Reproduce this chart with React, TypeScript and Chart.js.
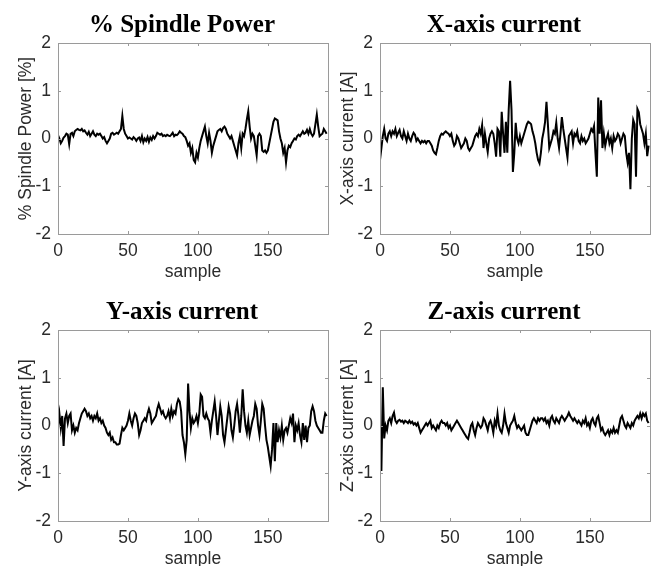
import React, { useEffect, useRef } from "react";
import { Chart, registerables } from "chart.js";

Chart.register(...registerables);

const spindlePower: number[] = [
  0.07, 0.0, -0.1, -0.05, 0.02, 0.05, 0.1, 0.08, -0.12, 0.1,
  0.12, 0.05, 0.15, 0.18, 0.2, 0.18, 0.17, 0.2, 0.15, 0.17,
  0.12, 0.08, 0.14, 0.05, 0.1, 0.15, 0.08, 0.05, 0.1, 0.08,
  0.1, 0.05, 0.0, 0.03, -0.05, -0.1, -0.05, 0.0, 0.1, 0.12,
  0.08, 0.1, 0.12, 0.1, 0.15, 0.2, 0.47, 0.2, 0.1, 0.05,
  0.0, 0.02, 0.0, -0.02, 0.03, 0.0, -0.05, 0.0, 0.02, -0.05,
  0.05, -0.08, 0.0, -0.05, 0.03, -0.07, 0.02, -0.03, 0.05, 0.0,
  0.05, 0.12, 0.1, 0.08, 0.1, 0.05, 0.07, 0.05, 0.08, 0.06,
  0.05, 0.08, 0.12, 0.05, 0.08, 0.07, 0.1, 0.15, 0.12, 0.1,
  0.05, 0.03, -0.05, -0.15, -0.1, -0.3, -0.2, -0.45, -0.5, -0.3,
  -0.4, -0.2, -0.05, 0.05, 0.15, 0.25, 0.05, -0.1, 0.12, -0.05,
  -0.3, -0.15, -0.05, 0.05, 0.15, 0.18, 0.2, 0.15, 0.22, 0.25,
  0.2, 0.1, 0.05, 0.0, 0.05, -0.05, -0.15, -0.25, -0.35, -0.1,
  0.05, -0.2, 0.1, 0.05, 0.2, 0.4, 0.57, 0.25, 0.0, 0.1,
  0.05, -0.15, -0.35, 0.05, 0.1, 0.05, -0.25, -0.28, -0.25, -0.3,
  -0.25, -0.1, 0.05, 0.2, 0.35, 0.42, 0.4, 0.38, 0.15, 0.0,
  -0.1, -0.3, -0.2, -0.5, -0.25, -0.15, -0.18, -0.1, -0.05, 0.0,
  -0.02, 0.05, 0.08, 0.05, 0.1, 0.15, 0.1, 0.12, 0.18, 0.1,
  0.2, 0.1, 0.05, 0.1, 0.3, 0.5, 0.25, 0.05, 0.08, 0.1,
  0.2, 0.15, 0.1,
];

const xCurrent: number[] = [
  -0.45, -0.2, 0.05, 0.2, 0.0, -0.05, 0.1, 0.15, 0.05, 0.15,
  0.1, 0.2, 0.05, 0.12, 0.18, 0.05, 0.0, 0.15, 0.05, -0.05,
  0.1, 0.0, -0.05, 0.05, 0.12, 0.08, -0.05, 0.0, -0.05, -0.1,
  -0.05, -0.08, -0.05, -0.1, -0.05, -0.05, -0.1, -0.15, -0.25, -0.3,
  -0.33, -0.2, -0.05, 0.05, 0.1, 0.08, 0.12, 0.15, 0.12, 0.1,
  0.05, 0.1, -0.05, -0.15, -0.1, 0.05, 0.0, -0.1, -0.2, -0.15,
  -0.1, 0.0, -0.05, -0.2, -0.25, -0.2, -0.15, -0.05, 0.05, 0.1,
  0.05, 0.2, 0.1, 0.28, -0.2, 0.1, -0.1, -0.28, 0.0, 0.1,
  0.15, 0.1, -0.1, -0.38, 0.2, 0.15, -0.38, 0.56, 0.1, -0.3,
  0.35, -0.3, 0.6, 1.21, 0.6, -0.7, -0.3, 0.33, 0.0, -0.1,
  0.05, -0.1, 0.0, 0.1, 0.2, 0.3, 0.35, 0.33, 0.3, 0.15,
  0.05, -0.1, -0.3, -0.45, -0.52, -0.3, 0.0, 0.15, 0.35, 0.77,
  0.3, -0.2, -0.1, 0.0, 0.15, 0.1, 0.33, 0.0, -0.2, 0.1,
  0.45, 0.2, 0.0, -0.2, -0.4, 0.05, 0.1, 0.15, -0.1, 0.1,
  0.05, 0.15, -0.05, -0.1, 0.05, -0.05, 0.0, -0.1, -0.05, 0.0,
  0.1, 0.2, 0.15, 0.26, -0.3, -0.8, 0.86, 0.1, 0.8, -0.2,
  0.1, -0.15, 0.0, 0.1, -0.1, 0.0, -0.2, 0.05, -0.05, 0.0,
  0.1, 0.05, -0.1, 0.0, 0.1, 0.05, -0.3, -0.5, -0.3, -1.06,
  0.0, 0.39, 0.3, -0.8, 0.62, 0.55, 0.3, 0.2, 0.1, -0.1,
  0.1, -0.37, -0.15,
];

const yCurrent: number[] = [
  0.0, 0.25, -0.05, 0.2, -0.43, 0.15, 0.25, 0.05, 0.2, 0.25,
  -0.1, 0.0, -0.15, -0.05, -0.1, 0.05, 0.15, 0.25, 0.3, 0.35,
  0.3, 0.2, 0.25, 0.15, 0.2, 0.1, 0.2, 0.15, 0.25, 0.1,
  0.15, 0.05, 0.1, 0.0, -0.05, -0.15, -0.2, -0.15, -0.3, -0.25,
  -0.35, -0.35, -0.4, -0.4, -0.38, -0.2, -0.05, -0.1, -0.05, 0.0,
  0.1, 0.25, 0.1, 0.0, 0.15, 0.25, 0.2, 0.05, -0.2, -0.1,
  0.05, 0.1, 0.15, 0.1, 0.25, 0.35, 0.25, 0.05, 0.1, 0.15,
  0.2, 0.35, 0.45, 0.35, 0.25, 0.3, 0.2, 0.15, 0.2, 0.3,
  0.15, 0.35, 0.2, 0.3, 0.25, 0.45, 0.55, 0.5, 0.3, -0.2,
  -0.35, -0.6, -0.3, 0.88, 0.3, -0.05, 0.15, 0.05, 0.1, 0.2,
  0.05, 0.25, 0.65, 0.6, 0.2, 0.15, 0.25, 0.15, 0.1, -0.15,
  0.1, 0.3, 0.5, 0.2, -0.2, 0.1, 0.4, 0.2, -0.2, -0.35,
  -0.1, 0.15, 0.4, 0.25, -0.1, -0.25, 0.0, 0.3, 0.45, 0.2,
  -0.15, 0.2, 0.76, 0.3, 0.0, -0.15, 0.1, -0.2, -0.05, 0.1,
  0.2, 0.45, 0.35, 0.0, -0.2, 0.1, 0.45, 0.35, 0.0, -0.3,
  -0.45, -0.65, -0.85, -0.5, 0.05, -0.75, 0.05, -0.35, -0.1, -0.25,
  0.0, -0.3, -0.1, -0.05, -0.15, 0.0, 0.15, 0.05, 0.25, -0.35,
  0.0, -0.1, 0.05, -0.2, -0.35, 0.05, -0.3, 0.0, -0.35, -0.05,
  0.0, 0.3, 0.4, 0.3, 0.1, 0.0, -0.05, -0.1, -0.15, -0.15,
  0.1, 0.25, 0.2,
];

const zCurrent: number[] = [
  0.0, -0.95, 0.8, -0.27, 0.0, -0.1, 0.1, 0.15, 0.05, 0.2,
  0.27, 0.1, 0.05, 0.1, 0.12, 0.08, 0.1, 0.05, 0.1, 0.08,
  0.05, 0.1, 0.05, 0.08, 0.02, 0.05, 0.0, 0.05, -0.05, -0.15,
  -0.1, -0.05, 0.0, 0.05, 0.0, 0.05, 0.1, -0.05, 0.0, -0.05,
  -0.1, 0.0, -0.05, 0.05, 0.1, 0.05, 0.05, 0.0, 0.05, -0.05,
  0.0, -0.1, -0.05, 0.0, 0.05, 0.1, 0.05, 0.0, -0.05, -0.1,
  -0.15, -0.2, -0.25, -0.28, -0.15, 0.0, 0.05, -0.1, -0.2, -0.05,
  0.05, 0.0, -0.05, 0.0, 0.15, 0.1, 0.0, -0.1, 0.05, 0.1,
  0.0, -0.15, 0.1, 0.0, 0.25, 0.0, -0.1, -0.15, 0.0, 0.25,
  0.05, -0.05, -0.15, 0.0, 0.05, 0.1, 0.2, 0.05, -0.05, 0.0,
  -0.05, -0.1, -0.05, 0.0, -0.15, -0.2, -0.2, -0.1, 0.0, 0.1,
  0.15, 0.1, 0.05, 0.15, 0.1, 0.15, 0.15, 0.1, 0.15, 0.05,
  0.1, 0.0, 0.15, 0.2, 0.1, 0.05, 0.15, 0.1, 0.05, 0.15,
  0.2, 0.15, 0.1, 0.15, 0.2, 0.27, 0.2, 0.15, 0.1, 0.15,
  0.1, 0.05, 0.1, 0.05, 0.0, 0.1, 0.05, 0.15, 0.0, 0.05,
  -0.05, 0.1, 0.15, 0.05, 0.0, 0.15, 0.2, 0.05, -0.1, -0.05,
  -0.15, -0.2, -0.15, -0.1, -0.2, -0.1, -0.15, -0.05, -0.15, -0.1,
  -0.15, 0.0, 0.15, 0.2, 0.1, 0.0, -0.05, 0.05, 0.0, -0.05,
  0.05, 0.0, 0.1, 0.15, 0.2, 0.15, 0.25, 0.15, 0.25, 0.2,
  0.25, 0.1, 0.05,
];

const panelTitles = ["% Spindle Power", "X-axis current", "Y-axis current", "Z-axis current"];
const yAxisTitles = ["% Spindle Power [%]", "X-axis current [A]", "Y-axis current [A]", "Z-axis current [A]"];
const xAxisTitle = "sample";
const xMin = 0;
const xMax = 193;
const yMin = -2;
const yMax = 2;

const CANVAS_W = 364;
const CANVAS_H = 283;
const TEXT = "#2b2b2b";
const AXIS_FONT = { family: '"Liberation Sans", Arial, sans-serif', size: 17.5 };

const boxPlugin = {
  id: "matlabBox",
  afterDraw(chart: any) {
    const { ctx, chartArea, scales } = chart;
    const { left, right, top, bottom } = chartArea;
    ctx.save();
    ctx.strokeStyle = "#9a9a9a";
    ctx.lineWidth = 1;
    ctx.beginPath();
    const tl = 3;
    scales.x.ticks.forEach((t: any) => {
      const px = Math.round(scales.x.getPixelForValue(t.value)) + 0.5;
      ctx.moveTo(px, bottom);
      ctx.lineTo(px, bottom - tl);
      ctx.moveTo(px, top);
      ctx.lineTo(px, top + tl);
    });
    scales.y.ticks.forEach((t: any) => {
      const py = Math.round(scales.y.getPixelForValue(t.value)) + 0.5;
      ctx.moveTo(left, py);
      ctx.lineTo(left + tl, py);
      ctx.moveTo(right, py);
      ctx.lineTo(right - tl, py);
    });
    ctx.stroke();
    ctx.strokeRect(Math.round(left) + 0.5, Math.round(top) + 0.5, Math.round(right - left), Math.round(bottom - top));
    ctx.restore();
  },
};

function makeTitlePlugin(text: string) {
  return {
    id: "panelTitle",
    afterDraw(chart: any) {
      const { ctx, chartArea } = chart;
      ctx.save();
      ctx.font = 'bold 25px "Liberation Serif", serif';
      ctx.fillStyle = "#000";
      ctx.textAlign = "center";
      ctx.textBaseline = "middle";
      ctx.fillText(text, (chartArea.left + chartArea.right) / 2 - 11, 26);
      ctx.restore();
    },
  };
}

function Panel({ idx, values, left, top }: { idx: number; values: number[]; left: number; top: number }) {
  const ref = useRef<HTMLCanvasElement | null>(null);
  useEffect(() => {
    if (!ref.current) return;
    const chart = new Chart(ref.current, {
      type: "line",
      data: {
        datasets: [
          {
            data: values.map((v, i) => ({ x: i, y: v })),
            borderColor: "#000",
            borderWidth: 2,
            pointRadius: 0,
            tension: 0,
            fill: false,
          },
        ],
      },
      options: {
        animation: false,
        responsive: false,
        maintainAspectRatio: false,
        devicePixelRatio: 1,
        layout: { padding: { left: 0, right: 36, top: 43, bottom: 0 } },
        plugins: {
          legend: { display: false },
          tooltip: { enabled: false },
          title: { display: false },
        },
        scales: {
          x: {
            type: "linear",
            min: xMin,
            max: xMax,
            grid: { display: false, drawTicks: false },
            border: { display: false },
            ticks: { stepSize: 50, includeBounds: false, color: TEXT, font: AXIS_FONT, padding: 7, maxRotation: 0 },
            title: { display: true, text: xAxisTitle, color: TEXT, font: AXIS_FONT, padding: { top: 0, bottom: 0 } },
            afterFit: (s: any) => {
              s.height = 49;
            },
          },
          y: {
            type: "linear",
            min: yMin,
            max: yMax,
            grid: { display: false, drawTicks: false },
            border: { display: false },
            ticks: { stepSize: 1, color: TEXT, font: AXIS_FONT, padding: 7 },
            title: { display: true, text: yAxisTitles[idx], color: TEXT, font: AXIS_FONT, padding: { top: 16, bottom: 0 } },
            afterFit: (s: any) => {
              s.width = 58;
            },
          },
        },
      },
      plugins: [boxPlugin, makeTitlePlugin(panelTitles[idx])],
    } as any);
    return () => chart.destroy();
  }, [idx, values]);
  return (
    <canvas
      ref={ref}
      width={CANVAS_W}
      height={CANVAS_H}
      style={{ position: "absolute", left, top, width: CANVAS_W, height: CANVAS_H }}
    />
  );
}

export default function App() {
  return (
    <div
      style={{
        position: "absolute",
        left: 0,
        top: 0,
        width: 652,
        height: 566,
        overflow: "hidden",
        background: "#fff",
      }}
    >
      <Panel idx={0} values={spindlePower} left={0} top={0} />
      <Panel idx={1} values={xCurrent} left={322} top={0} />
      <Panel idx={2} values={yCurrent} left={0} top={287} />
      <Panel idx={3} values={zCurrent} left={322} top={287} />
    </div>
  );
}
